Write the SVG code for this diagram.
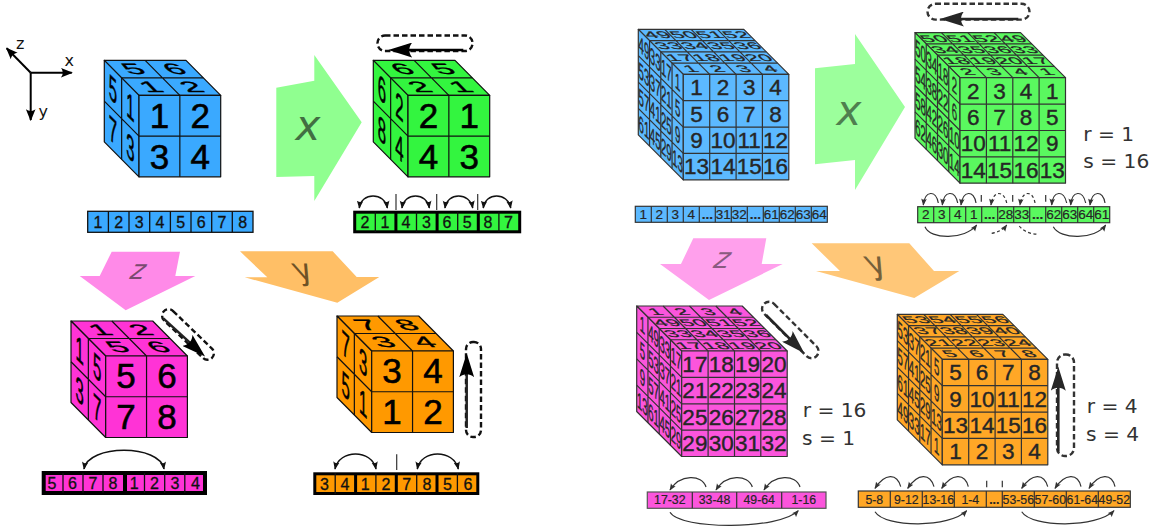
<svg xmlns="http://www.w3.org/2000/svg" width="1164" height="531" viewBox="0 0 1164 531">
<style>
text{font-family:"Liberation Sans",Arial,sans-serif;text-anchor:middle;fill:#000}
.dv{font-family:"DejaVu Sans",sans-serif;text-anchor:start}
.rs{font-size:20.2px;fill:#333}
.ax{font-size:16px;fill:#111}
.big{font-family:"DejaVu Sans",sans-serif;font-style:italic}
.c2 text{font-size:35px;stroke:#000;stroke-width:.6}
.c4 text{font-size:22.5px;fill:#262626;stroke:#262626;stroke-width:.4}
.top{transform:matrix(1,0,.426,.426,0,0)}
.lft{transform:matrix(.426,.426,0,1,0,0)}
.fr2{transform:translate(34.7px,35px)}
.fr4{transform:translate(45px,45px)}
.cl{fill:inherit;stroke:#111;stroke-width:1.2;stroke-linejoin:round}
.c4s{fill:inherit;stroke:#333;stroke-width:1.2;stroke-linejoin:round}
.gl{fill:none}
.s1 text{font-size:16px;fill:#111;stroke:#111;stroke-width:.3}
.s2 text{font-size:13.5px;fill:#262626;stroke:#262626;stroke-width:.2}
.s3 text{font-size:12.3px;fill:#262626;stroke:#262626;stroke-width:.2}
.blue{fill:#3aa9ff}.green{fill:#33f53f}.pink{fill:#ff33d6}.orange{fill:#ff9900}
.blue2{fill:#5cb9ff}.green2{fill:#5af85f}.pink2{fill:#fb55dc}.orange2{fill:#ffa726}
.thin{stroke:#111;stroke-width:1.3;fill:none}
.thick{stroke:#000;stroke-width:3;fill:none}
.thinr{stroke:#333;stroke-width:1.2;fill:none}
.arc{fill:none;stroke:#111;stroke-width:1.5}
.arcd{marker-start:url(#hs);marker-end:url(#h)}
.arcs{fill:none;stroke:#333;stroke-width:1.2;marker-end:url(#h2)}
.dash{stroke-dasharray:3 2.5}
.cap{fill:none;stroke:#111;stroke-width:2.4;stroke-dasharray:5.5 3}
.capr{fill:none;stroke:#333;stroke-width:2.4;stroke-dasharray:5.5 3}
.mv{fill:none;stroke:#000;stroke-width:2.5;marker-end:url(#big)}
.mvr{fill:none;stroke:#262626;stroke-width:2.6;marker-end:url(#bigr)}
.sep{stroke:#333;stroke-width:1.2;fill:none}
.axl{fill:none;stroke:#000;stroke-width:2;marker-end:url(#axh)}
</style>
<defs>
<marker id="h" markerUnits="userSpaceOnUse" markerWidth="8" markerHeight="7" viewBox="0 0 10 8" refX="9" refY="4" orient="auto-start-reverse"><path d="M10 4L0 0C2 2.5 2 5.5 0 8Z" fill="#111"/></marker>
<marker id="hs" markerUnits="userSpaceOnUse" markerWidth="8" markerHeight="7" viewBox="0 0 10 8" refX="9" refY="4" orient="auto-start-reverse"><path d="M10 4L0 0C2 2.5 2 5.5 0 8Z" fill="#111"/></marker>
<marker id="h2" markerUnits="userSpaceOnUse" markerWidth="7" markerHeight="6.5" viewBox="0 0 10 8" refX="9" refY="4" orient="auto"><path d="M10 4L0 0C2 2.5 2 5.5 0 8Z" fill="#333"/></marker>
<marker id="big" markerUnits="userSpaceOnUse" markerWidth="24" markerHeight="15" viewBox="0 0 24 15" refX="6" refY="7.5" orient="auto"><path d="M24 7.5L0 0C4 4.5 4 10.5 0 15Z" fill="#000"/></marker>
<marker id="bigr" markerUnits="userSpaceOnUse" markerWidth="24" markerHeight="15" viewBox="0 0 24 15" refX="6" refY="7.5" orient="auto"><path d="M24 7.5L0 0C4 4.5 4 10.5 0 15Z" fill="#262626"/></marker>
<marker id="axh" markerUnits="userSpaceOnUse" markerWidth="12" markerHeight="10" viewBox="0 0 10 8" refX="9" refY="4" orient="auto"><path d="M10 4L0 0C2 2.5 2 5.5 0 8Z" fill="#000"/></marker>
<g id="c2" class="cl">
<path d="M0 0H81.7L116.4 35H34.7Z"/>
<path d="M0 0L34.7 35V116.5L0 81.5Z"/>
<rect x="34.7" y="35" width="81.7" height="81.5"/>
<path class="gl" d="M40.85 0L75.55 35M17.35 17.5H99M17.35 17.5V98.9M0 40.75L34.7 75.75M75.55 35V116.5M34.7 75.75H116.4"/>
</g>
<g id="c4" class="c4s">
<path d="M0 0H105.5L150.5 45H45Z"/>
<path d="M0 0L45 45V150.5L0 105.5Z"/>
<rect x="45" y="45" width="105.5" height="105.5"/>
<path class="gl" d="M26.4 0L71.4 45M52.8 0L97.8 45M79.1 0L124.1 45M11.25 11.25H116.75M22.5 22.5H128M33.75 33.75H139.25M11.25 11.25V116.75M22.5 22.5V128M33.75 33.75V139.25M0 26.4L45 71.4M0 52.8L45 97.8M0 79.1L45 124.1M71.4 45V150.5M97.8 45V150.5M124.1 45V150.5M45 71.4H150.5M45 97.8H150.5M45 124.1H150.5"/>
</g>
</defs>

<g id="axes">
<path class="axl" d="M30.7 72.7H71.7"/>
<path class="axl" d="M30.7 72.7V120"/>
<path class="axl" d="M30.7 72.7L6.7 48.3"/>
<text class="dv ax" x="16" y="49">z</text>
<text class="dv ax" x="64.5" y="66">x</text>
<text class="dv ax" x="38.5" y="117">y</text>
</g>

<g id="arrow-x-left"><path d="M276.3 87.7L314.3 80.7V55L361.7 122.3L314.3 201V176L276.3 177Z" fill="#90ff90"/><text class="big" x="308" y="140" font-size="42" style="fill:#426f42">x</text></g>
<g id="arrow-z-left"><path d="M111.7 251.7H180L175.3 276H195.3L125.7 310.3L79.7 276H99.7Z" fill="#ff8ae8"/><text class="big" transform="translate(136 279) skewX(-14)" font-size="27" style="fill:#7a4a70">z</text></g>
<g id="arrow-y-left"><path d="M240 251.3H332.7L356.7 277H379.3L337.3 302.7L244.7 277.3H267.3Z" fill="#ffbf66"/><text class="big" transform="translate(307 280) skewX(26)" font-size="30" style="font-style:normal;fill:#6e5226">y</text></g>
<g id="arrow-x-right"><path d="M815 68.3L855 64V34L905 107L855 190V160L815 164.3Z" fill="#9cff9c"/><text class="big" x="849" y="125" font-size="42" style="fill:#4f7f4f">x</text></g>
<g id="arrow-z-right"><path d="M693.3 238.3H766.3L761.7 264H782.7L709 300L660 264H681Z" fill="#ffa0ec"/><text class="big" transform="translate(720 268) skewX(-14)" font-size="29" style="fill:#8a5a80">z</text></g>
<g id="arrow-y-right"><path d="M811.7 243.3H909.3L934 271H959.3L914.3 298L816 271H840Z" fill="#ffc778"/><text class="big" transform="translate(880 274) skewX(26)" font-size="32" style="font-style:normal;fill:#76603a">y</text></g>

<g id="cube-2-blue" class="c2 blue" transform="translate(104.3 60.3)">
<use href="#c2"/>
<g class="fr2"><text x="20.4" y="32.4">1</text><text x="61.3" y="32.4">2</text><text x="20.4" y="73.3">3</text><text x="61.3" y="73.3">4</text></g>
<g class="top"><text x="20.4" y="32.4">5</text><text x="61.3" y="32.4">6</text><text x="20.4" y="73.3">1</text><text x="61.3" y="73.3">2</text></g>
<g class="lft"><text x="20.4" y="32.4">5</text><text x="61.3" y="32.4">1</text><text x="20.4" y="73.3">7</text><text x="61.3" y="73.3">3</text></g>
</g>
<g id="cube-2-green" class="c2 green" transform="translate(373.3 60.3)">
<use href="#c2"/>
<g class="fr2"><text x="20.4" y="32.4">2</text><text x="61.3" y="32.4">1</text><text x="20.4" y="73.3">4</text><text x="61.3" y="73.3">3</text></g>
<g class="top"><text x="20.4" y="32.4">6</text><text x="61.3" y="32.4">5</text><text x="20.4" y="73.3">2</text><text x="61.3" y="73.3">1</text></g>
<g class="lft"><text x="20.4" y="32.4">6</text><text x="61.3" y="32.4">2</text><text x="20.4" y="73.3">8</text><text x="61.3" y="73.3">4</text></g>
</g>
<g id="cube-2-pink" class="c2 pink" transform="translate(71 321)">
<use href="#c2"/>
<g class="fr2"><text x="20.4" y="32.4">5</text><text x="61.3" y="32.4">6</text><text x="20.4" y="73.3">7</text><text x="61.3" y="73.3">8</text></g>
<g class="top"><text x="20.4" y="32.4">1</text><text x="61.3" y="32.4">2</text><text x="20.4" y="73.3">5</text><text x="61.3" y="73.3">6</text></g>
<g class="lft"><text x="20.4" y="32.4">1</text><text x="61.3" y="32.4">5</text><text x="20.4" y="73.3">3</text><text x="61.3" y="73.3">7</text></g>
</g>
<g id="cube-2-orange" class="c2 orange" transform="translate(337 316)">
<use href="#c2"/>
<g class="fr2"><text x="20.4" y="32.4">3</text><text x="61.3" y="32.4">4</text><text x="20.4" y="73.3">1</text><text x="61.3" y="73.3">2</text></g>
<g class="top"><text x="20.4" y="32.4">7</text><text x="61.3" y="32.4">8</text><text x="20.4" y="73.3">3</text><text x="61.3" y="73.3">4</text></g>
<g class="lft"><text x="20.4" y="32.4">7</text><text x="61.3" y="32.4">3</text><text x="20.4" y="73.3">5</text><text x="61.3" y="73.3">1</text></g>
</g>

<g id="cube-4-blue" class="c4 blue2" transform="translate(638.3 29.3)">
<use href="#c4"/>
<g class="fr4"><text x="13.2" y="21">1</text><text x="39.6" y="21">2</text><text x="65.9" y="21">3</text><text x="92.3" y="21">4</text><text x="13.2" y="47.3">5</text><text x="39.6" y="47.3">6</text><text x="65.9" y="47.3">7</text><text x="92.3" y="47.3">8</text><text x="13.2" y="73.7">9</text><text x="39.6" y="73.7">10</text><text x="65.9" y="73.7">11</text><text x="92.3" y="73.7">12</text><text x="13.2" y="100.1">13</text><text x="39.6" y="100.1">14</text><text x="65.9" y="100.1">15</text><text x="92.3" y="100.1">16</text></g>
<g class="top"><text x="13.2" y="21">49</text><text x="39.6" y="21">50</text><text x="65.9" y="21">51</text><text x="92.3" y="21">52</text><text x="13.2" y="47.3">33</text><text x="39.6" y="47.3">34</text><text x="65.9" y="47.3">35</text><text x="92.3" y="47.3">36</text><text x="13.2" y="73.7">17</text><text x="39.6" y="73.7">18</text><text x="65.9" y="73.7">19</text><text x="92.3" y="73.7">20</text><text x="13.2" y="100.1">1</text><text x="39.6" y="100.1">2</text><text x="65.9" y="100.1">3</text><text x="92.3" y="100.1">4</text></g>
<g class="lft"><text x="13.2" y="21">49</text><text x="39.6" y="21">33</text><text x="65.9" y="21">17</text><text x="92.3" y="21">1</text><text x="13.2" y="47.3">53</text><text x="39.6" y="47.3">37</text><text x="65.9" y="47.3">21</text><text x="92.3" y="47.3">5</text><text x="13.2" y="73.7">57</text><text x="39.6" y="73.7">41</text><text x="65.9" y="73.7">25</text><text x="92.3" y="73.7">9</text><text x="13.2" y="100.1">61</text><text x="39.6" y="100.1">45</text><text x="65.9" y="100.1">29</text><text x="92.3" y="100.1">13</text></g>
</g>
<g id="cube-4-green" class="c4 green2" transform="translate(915 32.7)">
<use href="#c4"/>
<g class="fr4"><text x="13.2" y="21">2</text><text x="39.6" y="21">3</text><text x="65.9" y="21">4</text><text x="92.3" y="21">1</text><text x="13.2" y="47.3">6</text><text x="39.6" y="47.3">7</text><text x="65.9" y="47.3">8</text><text x="92.3" y="47.3">5</text><text x="13.2" y="73.7">10</text><text x="39.6" y="73.7">11</text><text x="65.9" y="73.7">12</text><text x="92.3" y="73.7">9</text><text x="13.2" y="100.1">14</text><text x="39.6" y="100.1">15</text><text x="65.9" y="100.1">16</text><text x="92.3" y="100.1">13</text></g>
<g class="top"><text x="13.2" y="21">50</text><text x="39.6" y="21">51</text><text x="65.9" y="21">52</text><text x="92.3" y="21">49</text><text x="13.2" y="47.3">34</text><text x="39.6" y="47.3">35</text><text x="65.9" y="47.3">36</text><text x="92.3" y="47.3">33</text><text x="13.2" y="73.7">18</text><text x="39.6" y="73.7">19</text><text x="65.9" y="73.7">20</text><text x="92.3" y="73.7">17</text><text x="13.2" y="100.1">2</text><text x="39.6" y="100.1">3</text><text x="65.9" y="100.1">4</text><text x="92.3" y="100.1">1</text></g>
<g class="lft"><text x="13.2" y="21">50</text><text x="39.6" y="21">34</text><text x="65.9" y="21">18</text><text x="92.3" y="21">2</text><text x="13.2" y="47.3">54</text><text x="39.6" y="47.3">38</text><text x="65.9" y="47.3">22</text><text x="92.3" y="47.3">6</text><text x="13.2" y="73.7">58</text><text x="39.6" y="73.7">42</text><text x="65.9" y="73.7">26</text><text x="92.3" y="73.7">10</text><text x="13.2" y="100.1">62</text><text x="39.6" y="100.1">46</text><text x="65.9" y="100.1">30</text><text x="92.3" y="100.1">14</text></g>
</g>
<g id="cube-4-pink" class="c4 pink2" transform="translate(636.7 306)">
<use href="#c4"/>
<g class="fr4"><text x="13.2" y="21">17</text><text x="39.6" y="21">18</text><text x="65.9" y="21">19</text><text x="92.3" y="21">20</text><text x="13.2" y="47.3">21</text><text x="39.6" y="47.3">22</text><text x="65.9" y="47.3">23</text><text x="92.3" y="47.3">24</text><text x="13.2" y="73.7">25</text><text x="39.6" y="73.7">26</text><text x="65.9" y="73.7">27</text><text x="92.3" y="73.7">28</text><text x="13.2" y="100.1">29</text><text x="39.6" y="100.1">30</text><text x="65.9" y="100.1">31</text><text x="92.3" y="100.1">32</text></g>
<g class="top"><text x="13.2" y="21">1</text><text x="39.6" y="21">2</text><text x="65.9" y="21">3</text><text x="92.3" y="21">4</text><text x="13.2" y="47.3">49</text><text x="39.6" y="47.3">50</text><text x="65.9" y="47.3">51</text><text x="92.3" y="47.3">52</text><text x="13.2" y="73.7">33</text><text x="39.6" y="73.7">34</text><text x="65.9" y="73.7">35</text><text x="92.3" y="73.7">36</text><text x="13.2" y="100.1">17</text><text x="39.6" y="100.1">18</text><text x="65.9" y="100.1">19</text><text x="92.3" y="100.1">20</text></g>
<g class="lft"><text x="13.2" y="21">1</text><text x="39.6" y="21">49</text><text x="65.9" y="21">33</text><text x="92.3" y="21">17</text><text x="13.2" y="47.3">5</text><text x="39.6" y="47.3">53</text><text x="65.9" y="47.3">37</text><text x="92.3" y="47.3">21</text><text x="13.2" y="73.7">9</text><text x="39.6" y="73.7">57</text><text x="65.9" y="73.7">41</text><text x="92.3" y="73.7">25</text><text x="13.2" y="100.1">13</text><text x="39.6" y="100.1">61</text><text x="65.9" y="100.1">45</text><text x="92.3" y="100.1">29</text></g>
</g>
<g id="cube-4-orange" class="c4 orange2" transform="translate(897.3 314.3)">
<use href="#c4"/>
<g class="fr4"><text x="13.2" y="21">5</text><text x="39.6" y="21">6</text><text x="65.9" y="21">7</text><text x="92.3" y="21">8</text><text x="13.2" y="47.3">9</text><text x="39.6" y="47.3">10</text><text x="65.9" y="47.3">11</text><text x="92.3" y="47.3">12</text><text x="13.2" y="73.7">13</text><text x="39.6" y="73.7">14</text><text x="65.9" y="73.7">15</text><text x="92.3" y="73.7">16</text><text x="13.2" y="100.1">1</text><text x="39.6" y="100.1">2</text><text x="65.9" y="100.1">3</text><text x="92.3" y="100.1">4</text></g>
<g class="top"><text x="13.2" y="21">53</text><text x="39.6" y="21">54</text><text x="65.9" y="21">55</text><text x="92.3" y="21">56</text><text x="13.2" y="47.3">37</text><text x="39.6" y="47.3">38</text><text x="65.9" y="47.3">39</text><text x="92.3" y="47.3">40</text><text x="13.2" y="73.7">21</text><text x="39.6" y="73.7">22</text><text x="65.9" y="73.7">23</text><text x="92.3" y="73.7">24</text><text x="13.2" y="100.1">5</text><text x="39.6" y="100.1">6</text><text x="65.9" y="100.1">7</text><text x="92.3" y="100.1">8</text></g>
<g class="lft"><text x="13.2" y="21">53</text><text x="39.6" y="21">37</text><text x="65.9" y="21">21</text><text x="92.3" y="21">5</text><text x="13.2" y="47.3">57</text><text x="39.6" y="47.3">41</text><text x="65.9" y="47.3">25</text><text x="92.3" y="47.3">9</text><text x="13.2" y="73.7">61</text><text x="39.6" y="73.7">45</text><text x="65.9" y="73.7">29</text><text x="92.3" y="73.7">13</text><text x="13.2" y="100.1">49</text><text x="39.6" y="100.1">33</text><text x="65.9" y="100.1">17</text><text x="92.3" y="100.1">1</text></g>
</g>

<g id="strip-2-blue" class="s1">
<rect class="blue" x="87.7" y="211.3" width="165.3" height="21" stroke="#111" stroke-width="1.3"/>
<path class="thin" d="M108.4 211.3v21M129 211.3v21M149.7 211.3v21M170.4 211.3v21M191 211.3v21M211.7 211.3v21M232.3 211.3v21"/>
<text x="98" y="227.6">1</text><text x="118.7" y="227.6">2</text><text x="139.3" y="227.6">3</text><text x="160" y="227.6">4</text><text x="180.7" y="227.6">5</text><text x="201.3" y="227.6">6</text><text x="222" y="227.6">7</text><text x="242.7" y="227.6">8</text>
</g>
<g id="strip-2-green" class="s1">
<rect class="green" x="354.7" y="212.2" width="165" height="19.6" stroke="#000" stroke-width="3"/>
<path class="thin" d="M375.3 212v20M416.5 212v20M457.7 212v20M498.9 212v20"/>
<path class="thick" d="M395.9 212v20M437.1 212v20M478.3 212v20"/>
<text x="365" y="227.6">2</text><text x="385" y="227.6">1</text><text x="406" y="227.6">4</text><text x="426.5" y="227.6">3</text><text x="447" y="227.6">6</text><text x="467.3" y="227.6">5</text><text x="488" y="227.6">8</text><text x="508.5" y="227.6">7</text>
</g>
<g id="strip-2-pink" class="s1">
<rect class="pink" x="43.7" y="473" width="161.3" height="20" stroke="#000" stroke-width="4"/>
<path class="thin" d="M63 473v20M83 473v20M103 473v20M144.5 473v20M164.7 473v20M184.8 473v20"/>
<path stroke="#000" stroke-width="4" d="M125 473v20"/>
<text x="52" y="489">5</text><text x="72.5" y="489">6</text><text x="93" y="489">7</text><text x="113" y="489">8</text><text x="134.3" y="489">1</text><text x="154.5" y="489">2</text><text x="175" y="489">3</text><text x="195.5" y="489">4</text>
</g>
<g id="strip-2-orange" class="s1">
<rect class="orange" x="314.8" y="473.8" width="163" height="19.7" stroke="#000" stroke-width="3"/>
<path class="thin" d="M335.2 473v21M375.9 473v21M416.7 473v21M457.4 473v21"/>
<path class="thick" d="M355.6 473v21M396.3 473v21M437 473v21"/>
<text x="324.5" y="490">3</text><text x="345" y="490">4</text><text x="365.3" y="490">1</text><text x="386" y="490">2</text><text x="406.7" y="490">7</text><text x="427" y="490">8</text><text x="447.5" y="490">5</text><text x="468" y="490">6</text>
</g>

<g id="strip-4-blue" class="s2">
<rect class="blue2" x="635.3" y="206.3" width="192" height="16" stroke="#333" stroke-width="1.2"/>
<path class="thinr" d="M651.3 206.3v16M667.3 206.3v16M683.3 206.3v16M699.3 206.3v16M715.3 206.3v16M731.3 206.3v16M747.3 206.3v16M763.3 206.3v16M779.3 206.3v16M795.3 206.3v16M811.3 206.3v16"/>
<text x="643.3" y="219">1</text><text x="659.3" y="219">2</text><text x="675.3" y="219">3</text><text x="691.3" y="219">4</text><text x="707.3" y="219" font-weight="bold">...</text><text x="723.3" y="219">31</text><text x="739.3" y="219">32</text><text x="755.3" y="219" font-weight="bold">...</text><text x="771.3" y="219">61</text><text x="787.3" y="219">62</text><text x="803.3" y="219">63</text><text x="819.3" y="219">64</text>
</g>
<g id="strip-4-green" class="s2">
<rect class="green2" x="917.7" y="206.7" width="192" height="16" stroke="#333" stroke-width="1.2"/>
<path class="thinr" d="M933.7 206.7v16M949.7 206.7v16M965.7 206.7v16M981.7 206.7v16M997.7 206.7v16M1013.7 206.7v16M1029.7 206.7v16M1045.7 206.7v16M1061.7 206.7v16M1077.7 206.7v16M1093.7 206.7v16"/>
<text x="925.7" y="219.3">2</text><text x="941.7" y="219.3">3</text><text x="957.7" y="219.3">4</text><text x="973.7" y="219.3">1</text><text x="989.7" y="219.3" font-weight="bold">...</text><text x="1005.7" y="219.3">28</text><text x="1021.7" y="219.3">33</text><text x="1037.7" y="219.3" font-weight="bold">...</text><text x="1053.7" y="219.3">62</text><text x="1069.7" y="219.3">63</text><text x="1085.7" y="219.3">64</text><text x="1101.7" y="219.3">61</text>
</g>
<g id="strip-4-pink" class="s3">
<rect class="pink2" x="647.3" y="492" width="178.7" height="16.3" stroke="#555" stroke-width="1.2"/>
<path class="thinr" d="M692.3 492v16.3M736.7 492v16.3M781.7 492v16.3"/>
<text x="669.8" y="504.3">17-32</text><text x="714.5" y="504.3">33-48</text><text x="759.2" y="504.3">49-64</text><text x="803.8" y="504.3">1-16</text>
</g>
<g id="strip-4-orange" class="s3">
<rect class="orange2" x="858.3" y="491" width="272" height="16.3" stroke="#333" stroke-width="1.2"/>
<path class="thinr" d="M890.3 491v16.3M922.3 491v16.3M954.3 491v16.3M986.3 491v16.3M1002.3 491v16.3M1034.3 491v16.3M1066.3 491v16.3M1098.3 491v16.3"/>
<text x="874.3" y="504">5-8</text><text x="906.3" y="504">9-12</text><text x="938.3" y="504">13-16</text><text x="970.3" y="504">1-4</text><text x="994.3" y="504" font-weight="bold">...</text><text x="1018.3" y="504">53-56</text><text x="1050.3" y="504">57-60</text><text x="1082.3" y="504">61-64</text><text x="1114.3" y="504">49-52</text>
</g>

<g id="labels">
<text class="dv rs" x="1083.3" y="140.7">r = 1</text>
<text class="dv rs" x="1083.3" y="168.3">s = 16</text>
<text class="dv rs" x="802.7" y="416.7">r = 16</text>
<text class="dv rs" x="802" y="445">s = 1</text>
<text class="dv rs" x="1086.7" y="413.3">r = 4</text>
<text class="dv rs" x="1086" y="440.7">s = 4</text>
</g>

<g id="connectors">
<rect class="cap" x="377.5" y="35.5" width="95" height="15.5" rx="7.5"/>
<path class="mv" d="M463.3 50H406.3"/>
<rect class="capr" x="927.5" y="3.8" width="102" height="15.8" rx="8"/>
<path class="mvr" d="M1018.3 19H958"/>
<rect class="cap" x="-33.5" y="-6.5" width="67" height="13" rx="6.5" transform="translate(188 334.5) rotate(44)"/>
<path class="mv" style="stroke:#222" d="M163.3 318.3L191.8 344.4"/>
<rect class="cap" x="466" y="342" width="15" height="95" rx="7"/>
<path class="mv" style="stroke:#222" d="M466.7 428V371.3"/>
<rect class="capr" x="-37" y="-7" width="74" height="14" rx="7" transform="translate(790.3 330) rotate(45)"/>
<path class="mvr" d="M766 315L791.6 340.6"/>
<rect class="capr" x="1057" y="354.5" width="17" height="101.5" rx="8"/>
<path class="mvr" d="M1058.3 451.7V384.7"/>

<path class="arc arcd" d="M359.3 208C361 192 385 192 387.3 208"/>
<path class="arc arcd" d="M402 208C404 192 427 192 429.3 208"/>
<path class="arc arcd" d="M445 208C447 192 470 192 472.7 208"/>
<path class="arc arcd" d="M483.3 208C485 192 508 192 510.7 208"/>
<path class="sep" d="M396 194V210M436.7 194V210M477.7 194V210"/>

<path class="arc arcd" d="M84 469C88 444 160 444 164 469"/>
<path class="arc arcd" d="M335 469C339 449 372 449 376 469"/>
<path class="arc arcd" d="M417.3 469C421 449 454 449 458.3 469"/>
<path class="sep" d="M396.7 454.3V470"/>

<path class="arcs" d="M938.3 203C936 190 925 190 923.3 205"/>
<path class="arcs" d="M957.7 203C955 190 944 190 942.3 205"/>
<path class="arcs" d="M976 203C974 190 963 190 961 205"/>
<path class="arcs dash" d="M1006.7 203C1004 190 993 190 991 205"/>
<path class="arcs dash" d="M1035 203C1033 190 1022 190 1020 205"/>
<path class="arcs" d="M1066.7 203C1064 190 1053 190 1051.7 205"/>
<path class="arcs" d="M1085.7 203C1083 190 1072 190 1070.7 205"/>
<path class="arcs" d="M1105 203C1103 190 1092 190 1090 205"/>
<path class="sep" d="M981.3 195V201.7M1012.7 195V201.7M1045.7 195V201.7"/>
<path class="arcs" d="M925 226.7C930 240 965 240 976.7 225"/>
<path class="arcs dash" d="M991.7 233.3C998 232 1003 230 1006.7 225"/>
<path class="arcs dash" style="marker-end:none" d="M1019.3 226C1024 232 1031 234 1038.3 234.3"/>
<path class="arcs" d="M1053.3 226.7C1060 240 1095 240 1105.7 225"/>

<path class="arcs" d="M706 487C702 474 680 474 670 490"/>
<path class="arcs" d="M752.3 487C748 474 726 474 716 490"/>
<path class="arcs" d="M800 487C796 474 774 474 764 490"/>
<path class="arcs" d="M670 512.3C680 530 780 530 798.3 510.7"/>

<path class="arcs" d="M900.7 486.7C897 473 885 473 875 488.3"/>
<path class="arcs" d="M934 486.7C930 473 918 473 907.7 488.3"/>
<path class="arcs" d="M968.3 486.7C965 473 952 473 941.7 488.3"/>
<path class="arcs" d="M1047.7 486.7C1044 473 1032 473 1021.7 488.3"/>
<path class="arcs" d="M1081 486.7C1078 473 1065 473 1055 488.3"/>
<path class="arcs" d="M1115 486.7C1112 473 1099 473 1089 488.3"/>
<path class="sep" d="M986.7 480.7V487.3M1002.3 480.7V487.3"/>
<path class="arcs" d="M875 511.7C885 528 950 528 966.7 510.7"/>
<path class="arcs" d="M1021.7 511.7C1032 528 1097 528 1114 510.7"/>
</g>
</svg>
